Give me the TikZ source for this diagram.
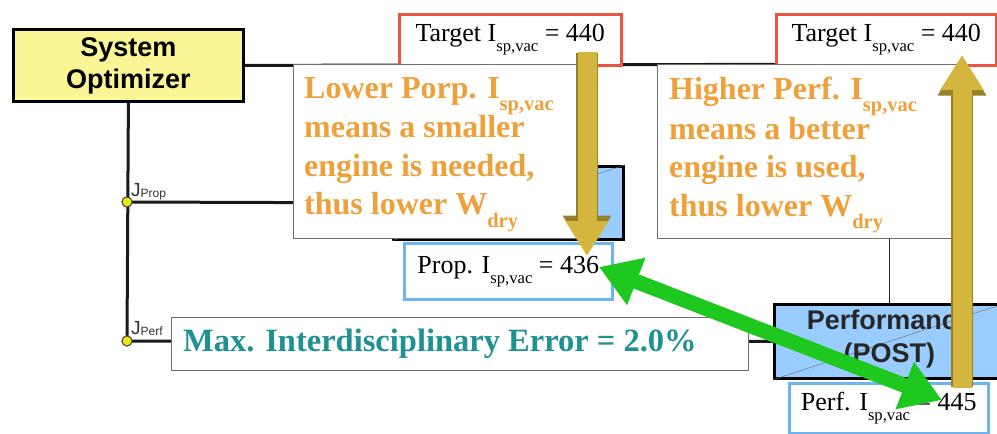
\documentclass[tikz,border=0pt]{standalone}
\usepackage{fontspec}
\usepackage{graphicx}
\setmainfont{Liberation Serif}
\setsansfont{Liberation Sans}
\usetikzlibrary{arrows.meta}

\definecolor{optfill}{RGB}{250,246,150}
\definecolor{discblue}{RGB}{153,204,255}
\definecolor{tgtred}{RGB}{232,86,64}
\definecolor{valblue}{RGB}{110,180,240}
\definecolor{callgray}{RGB}{110,110,110}
\definecolor{orangetxt}{RGB}{238,160,58}
\definecolor{tealtxt}{RGB}{30,145,145}
\definecolor{goldbar}{RGB}{212,182,62}
\definecolor{goldedge}{RGB}{150,128,40}
\definecolor{greenbar}{RGB}{30,200,30}
\definecolor{dotyellow}{RGB}{235,235,20}

% lowered, reduced subscript as used in the value labels
\newcommand\lsub[1]{\raisebox{-0.38em}{\scalebox{0.64}{#1}}}

\begin{document}
\begin{tikzpicture}[x=1pt,y=-1pt,
  wire/.style={line width=3pt, draw=black!90},
  thinwire/.style={line width=1.8pt, draw=black!85},
  optbox/.style={draw=black, line width=2.8pt, fill=optfill, anchor=north west,
    inner sep=0, align=center, font=\sffamily\bfseries\fontsize{27}{32}\selectfont},
  discbox/.style={draw=black, line width=2.8pt, fill=discblue, anchor=north west, inner sep=0},
  disctext/.style={anchor=center, inner sep=0, align=center, text=black!85,
    font=\sffamily\bfseries\fontsize{27}{33}\selectfont},
  callout/.style={draw=callgray, line width=1.3pt, fill=white, anchor=north west, inner sep=0},
  calltext/.style={text=orangetxt, anchor=north west, inner sep=0, align=left,
    font=\bfseries\fontsize{32}{38.5}\selectfont},
  tgtbox/.style={draw=tgtred, line width=2.6pt, fill=white, anchor=north west,
    inner sep=0, font=\fontsize{26}{28}\selectfont},
  valbox/.style={draw=valblue, line width=2.6pt, fill=white, anchor=north west,
    inner sep=0, font=\fontsize{26}{28}\selectfont},
  errbox/.style={draw=callgray, line width=1.3pt, fill=white, anchor=north west, inner sep=0},
  errtext/.style={text=tealtxt, anchor=west, inner sep=0, font=\bfseries\fontsize{32.5}{36}\selectfont},
  jdot/.style={circle, draw=black!70, line width=1pt, fill=dotyellow, minimum size=10pt, inner sep=0},
  jlabel/.style={anchor=base west, inner sep=0, text=black!80, font=\sffamily\fontsize{19}{20}\selectfont},
  goldedgearrow/.style={line width=22pt, draw=goldedge, -{Triangle[length=39pt,width=46pt]}},
  goldarrow/.style={line width=19pt, draw=goldbar, -{Triangle[length=35pt,width=41pt]}},
  greenarrow/.style={line width=15pt, draw=greenbar,
    {Triangle[length=40pt,width=48pt]}-{Triangle[length=40pt,width=48pt]}},
]
\clip (0,0) rectangle (997,434);
\fill[white] (0,0) rectangle (997,434);

% ---- coordinates for trunk and junctions
\coordinate (trunkend) at (960,64);
\node[jdot] (jprop) at (127,202) {};
\node[jdot] (jperf) at (127,341) {};

% ---- discipline boxes (drawn first, partly covered later)
\node[discbox, minimum width=230pt, minimum height=73pt] (propdisc) at (392,165) {};
\node[discbox, minimum width=230pt, minimum height=74pt] (perfdisc) at (773,303) {};

% ---- optimizer
\node[optbox, minimum width=230pt, minimum height=72pt] (opt) at (12,28) {System\\Optimizer};

% ---- connectors
\draw[wire] (opt.east) -- (trunkend);
\draw[wire] (opt.south) -- (jperf.center);
\draw[wire] (jprop.center) -- (propdisc.west);
\draw[wire] (jperf.center) -- (perfdisc.west);
\draw[thinwire] (propdisc.north) -- (propdisc.north |- opt.east);
\draw[thinwire] (perfdisc.north) -- (perfdisc.north |- opt.east);
\draw[thin, draw=black!60] (propdisc.south west) -- (propdisc.north east);
\draw[thin, draw=black!60] (perfdisc.south west) -- (perfdisc.north east);
\node[disctext] at ([yshift=2pt]perfdisc.center) {Performance\\(POST)};

\node[jdot] at (jprop) {};
\node[jdot] at (jperf) {};
\node[jlabel] at (131,196) {J\raisebox{-1.5pt}{\fontsize{12}{12}\selectfont Prop}};
\node[jlabel] at (131,334) {J\raisebox{-1.5pt}{\fontsize{12}{12}\selectfont Perf}};

% ---- target values
\node[tgtbox, minimum width=222pt, minimum height=51pt] (tgtL) at (398,13)
  {Target I\lsub{sp,vac} = 440};
\node[tgtbox, minimum width=220pt, minimum height=51pt] (tgtR) at (775,13)
  {Target I\lsub{sp,vac} = 440};

% ---- explanatory callouts
\node[callout, minimum width=304pt, minimum height=174pt] (noteL) at (293,64) {};
\node[calltext] at (304,77)
  {Lower Porp. I\lsub{sp,vac}\\means a smaller\\engine is needed,\\thus lower W\lsub{dry}};
\node[callout, minimum width=305pt, minimum height=174pt] (noteR) at (657,64) {};
\node[calltext] at (669,77)
  {Higher Perf. I\lsub{sp,vac}\\means a better\\engine is used,\\thus lower W\lsub{dry}};

% ---- computed values
\node[valbox, minimum width=208pt, minimum height=56pt] (propval) at (403,242)
  {Prop. I\lsub{sp,vac} = 436};
\node[errbox, minimum width=577pt, minimum height=53pt] (errbox) at (171,317) {};
\node[errtext] at ([xshift=12pt]errbox.west) {Max. Interdisciplinary Error = 2.0\%};
\node[valbox, minimum width=199pt, minimum height=50pt] (perfval) at (788,382)
  {Perf. I\lsub{sp,vac} = 445};

% ---- block arrows
\coordinate (downA) at (587,53);
\coordinate (downB) at (587,256);
\coordinate (upA) at (962,387);
\coordinate (upB) at (962,55);
\draw[goldedgearrow] (downA) -- ([yshift=1.5pt]downB);
\draw[goldarrow] ([yshift=1pt]downA) -- (downB);
\draw[goldedgearrow] (upA) -- ([yshift=-1.5pt]upB);
\draw[goldarrow] ([yshift=-1pt]upA) -- (upB);
\coordinate (gL) at (599,267);
\coordinate (gR) at (942,400);
\draw[greenarrow] (gL) -- (gR);
\end{tikzpicture}
\end{document}
